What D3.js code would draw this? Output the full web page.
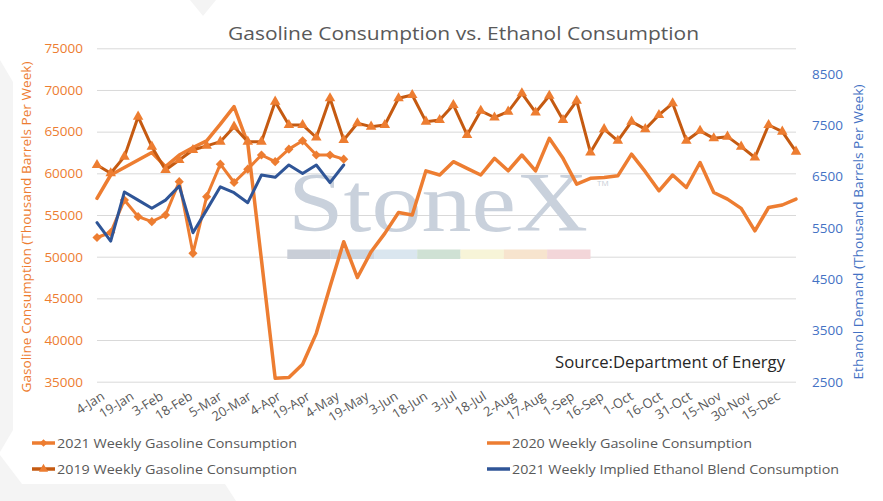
<!DOCTYPE html>
<html>
<head>
<meta charset="utf-8">
<script src="https://cdn.jsdelivr.net/npm/d3@7"></script>
<style>
  body { margin: 0; background: #fff; }
  text { font-family: "Open Sans", "Noto Sans", sans-serif; }
</style>
</head>
<body>
<svg id="chart" width="883" height="501"></svg>
<script>
// Data
const firstWeek = "4-Jan-2021";
const lastDay = "27-Dec-2021";
const tickLabels = ["4-Jan", "19-Jan", "3-Feb", "18-Feb", "5-Mar", "20-Mar", "4-Apr", "19-Apr",
  "4-May", "19-May", "3-Jun", "18-Jun", "3-Jul", "18-Jul", "2-Aug", "17-Aug", "1-Sep",
  "16-Sep", "1-Oct", "16-Oct", "31-Oct", "15-Nov", "30-Nov", "15-Dec"];

const gas2021 = [52300, 52900, 56800, 54800, 54200, 55000, 59000, 50400, 57200, 61100,
  58900, 60500, 62200, 61400, 62900, 63900, 62200, 62200, 61700];

const gas2020 = [57000, 59800, 60700, 61600, 62500, 60800, 62200, 63100, 63900, 65900,
  68000, 63600, 49600, 35400, 35500, 37100, 40800, 46400, 51800, 47500,
  50600, 52800, 55300, 55000, 60300, 59800, 61400, 60600, 59800, 61800,
  60300, 62200, 60300, 64200, 61800, 58700, 59400, 59500, 59700, 62300,
  60200, 57900, 59800, 58300, 61300, 57700, 56900, 55800, 53100, 55900,
  56200, 56900];

const gas2019 = [61000, 60000, 62000, 66800, 63200, 60400, 61600, 62800, 63300, 63800,
  65600, 63800, 63800, 68600, 65800, 65800, 64300, 69000, 64000, 66000,
  65600, 65800, 69000, 69400, 66200, 66400, 68200, 64600, 67500, 66700,
  67400, 69600, 67300, 69300, 66400, 68700, 62500, 65300, 63900, 66200,
  65300, 67000, 68400, 63900, 65100, 64200, 64400, 63200, 61900, 65800,
  65000, 62600];

const ethanol2021 = [5600, 5240, 6200, 6040, 5880, 6040, 6315, 5405, 5850, 6300,
  6185, 5990, 6530, 6485, 6725, 6560, 6725, 6380, 6725];

const leftTicks = [35000, 40000, 45000, 50000, 55000, 60000, 65000, 70000, 75000];
const rightTicks = [2500, 3500, 4500, 5500, 6500, 7500, 8500];

const legendNames = ["2021 Weekly Gasoline Consumption", "2020 Weekly Gasoline Consumption",
  "2019 Weekly Gasoline Consumption", "2021 Weekly Implied Ethanol Blend Consumption"];

// Colours
const orange = "#ED7D31", darkOrange = "#C55A11", blue = "#2F5597", grey = "#595959";

const parse = d3.timeParse("%d-%b-%Y");
const start = parse(firstWeek);
const weekOf = i => d3.timeDay.offset(start, 7 * i);

const svg = d3.select("#chart");
const plot = {left: 97, right: 796, top: 48.3, bottom: 381.7};

const x = d3.scaleTime()
  .domain([start, parse(lastDay)])
  .range([plot.left, plot.right]);

const y = d3.scaleLinear()
  .domain([35000, 75000])
  .range([plot.bottom, plot.top]);

const y2 = d3.scaleLinear()
  .domain([2500, 9000])
  .range([plot.bottom, plot.top]);

// faint template shapes in the background
svg.append("g").attr("fill", "#f4f4f4")
  .selectAll("polygon")
  .data([
    [[0, 60], [13, 82], [13, 430], [0, 452]],
    [[0, 455], [22, 484], [225, 484], [236, 501], [0, 501]],
    [[190, 0], [216, 0], [203, 16]]
  ])
  .join("polygon")
  .attr("points", d => d.join(" "));

// Gridlines + left axis
const yAxis = svg.append("g")
  .attr("transform", `translate(${plot.left},0)`)
  .call(d3.axisLeft(y).tickValues(leftTicks).tickSize(-(plot.right - plot.left)).tickPadding(14)
    .tickFormat(d3.format("d")));
yAxis.select(".domain").remove();
yAxis.selectAll("line").attr("stroke", "#d9d9d9").attr("stroke-width", 1);
yAxis.selectAll("text").attr("fill", orange).style("font-size", "13.5px");

// Right axis
const y2Axis = svg.append("g")
  .attr("transform", `translate(${plot.right},0)`)
  .call(d3.axisRight(y2).tickValues(rightTicks).tickSize(0).tickPadding(16)
    .tickFormat(d3.format("d")));
y2Axis.select(".domain").remove();
y2Axis.selectAll("text").attr("fill", "#4472C4").style("font-size", "13.5px");

// X axis labels (date axis, every 15 days)
const xAxis = svg.append("g").attr("class", "x-axis");
xAxis.selectAll("text")
  .data(tickLabels)
  .join("text")
  .attr("transform", d => `translate(${x(parse(d + "-2021")) + 6},${plot.bottom + 13}) rotate(-32)`)
  .attr("text-anchor", "end")
  .attr("dy", "0.35em")
  .attr("fill", grey)
  .style("font-size", "13px")
  .text(d => d);

// Axis titles
svg.append("text")
  .attr("transform", `translate(26,227) rotate(-90)`)
  .attr("text-anchor", "middle")
  .attr("dy", "0.35em")
  .attr("fill", orange)
  .attr("textLength", 331)
  .attr("lengthAdjust", "spacingAndGlyphs")
  .style("font-size", "13px")
  .text("Gasoline Consumption (Thousand Barrels Per Week)");

svg.append("text")
  .attr("transform", `translate(858,232) rotate(-90)`)
  .attr("text-anchor", "middle")
  .attr("dy", "0.35em")
  .attr("fill", "#4472C4")
  .attr("textLength", 295)
  .attr("lengthAdjust", "spacingAndGlyphs")
  .style("font-size", "13px")
  .text("Ethanol Demand (Thousand Barrels Per Week)");

// Title
svg.append("text")
  .attr("x", 228).attr("y", 40)
  .attr("fill", grey)
  .attr("textLength", 471)
  .attr("lengthAdjust", "spacingAndGlyphs")
  .style("font-size", "19px")
  .text("Gasoline Consumption vs. Ethanol Consumption");

// Watermark
const mark = svg.append("g");
mark.append("text")
  .attr("x", 288).attr("y", 231)
  .attr("fill", "#c9d1dc")
  .attr("textLength", 300)
  .attr("lengthAdjust", "spacingAndGlyphs")
  .style("font-family", "'Liberation Serif', 'DejaVu Serif', serif")
  .style("font-size", "84px")
  .text("StoneX");
mark.append("text")
  .attr("x", 597).attr("y", 186)
  .attr("fill", "#c8ced6")
  .style("font-size", "8px")
  .text("TM");
const barColors = ["#c9ced7", "#ccd5df", "#dae6ef", "#cfe1d4", "#f7f4d8", "#f7e4ce", "#f3d6d9"];
mark.selectAll("rect")
  .data(barColors)
  .join("rect")
  .attr("x", (d, i) => 287.3 + i * 43.3)
  .attr("y", 249.5)
  .attr("width", 43.4)
  .attr("height", 9.5)
  .attr("fill", d => d);

// Source
svg.append("text")
  .attr("x", 555).attr("y", 368)
  .attr("fill", "#262626")
  .attr("textLength", 230)
  .attr("lengthAdjust", "spacingAndGlyphs")
  .style("font-size", "16px")
  .text("Source:Department of Energy");

// Lines
function drawSeries(values, scale, color, width) {
  const line = d3.line()
    .x((d, i) => x(weekOf(i)))
    .y(d => scale(d));
  svg.append("path")
    .datum(values)
    .attr("fill", "none")
    .attr("stroke", color)
    .attr("stroke-width", width)
    .attr("stroke-linejoin", "round")
    .attr("stroke-linecap", "round")
    .attr("d", line);
}

function drawMarkers(values, scale, symbol, size, rotate, color) {
  svg.append("g")
    .selectAll("path")
    .data(values)
    .join("path")
    .attr("d", d3.symbol(symbol, size))
    .attr("transform", (d, i) => `translate(${x(weekOf(i))},${scale(d)}) rotate(${rotate})`)
    .attr("fill", color);
}

drawSeries(gas2021, y, orange, 3);
drawMarkers(gas2021, y, d3.symbolSquare, 42, 45, orange);
drawSeries(gas2020, y, orange, 3.5);
drawSeries(gas2019, y, darkOrange, 3);
drawMarkers(gas2019, y, d3.symbolTriangle, 48, 0, orange);
drawSeries(ethanol2021, y2, blue, 3);

// Legend
const legendPos = [[32, 443], [487, 443], [32, 469], [487, 469]];
const legendStyle = [
  {color: orange, marker: "diamond"},
  {color: orange, marker: null},
  {color: darkOrange, marker: "triangle"},
  {color: blue, marker: null}
];
const legendWidth = [240, 240, 240, 327];

const legend = svg.append("g").selectAll("g")
  .data(legendNames)
  .join("g")
  .attr("transform", (d, i) => `translate(${legendPos[i][0]},${legendPos[i][1]})`);

legend.append("line")
  .attr("x1", 0).attr("x2", 23)
  .attr("stroke", (d, i) => legendStyle[i].color)
  .attr("stroke-width", 3.5);

legend.filter((d, i) => legendStyle[i].marker === "diamond")
  .append("path")
  .attr("d", d3.symbol(d3.symbolSquare, 30))
  .attr("transform", "translate(11.5,0) rotate(45)")
  .attr("fill", orange);

legend.filter((d, i) => legendStyle[i].marker === "triangle")
  .append("path")
  .attr("d", d3.symbol(d3.symbolTriangle, 36))
  .attr("transform", "translate(11.5,0)")
  .attr("fill", orange);

legend.append("text")
  .attr("x", 25)
  .attr("dy", "0.35em")
  .attr("fill", grey)
  .attr("textLength", (d, i) => legendWidth[i])
  .attr("lengthAdjust", "spacingAndGlyphs")
  .style("font-size", "13.5px")
  .text(d => d);
</script>
</body>
</html>
